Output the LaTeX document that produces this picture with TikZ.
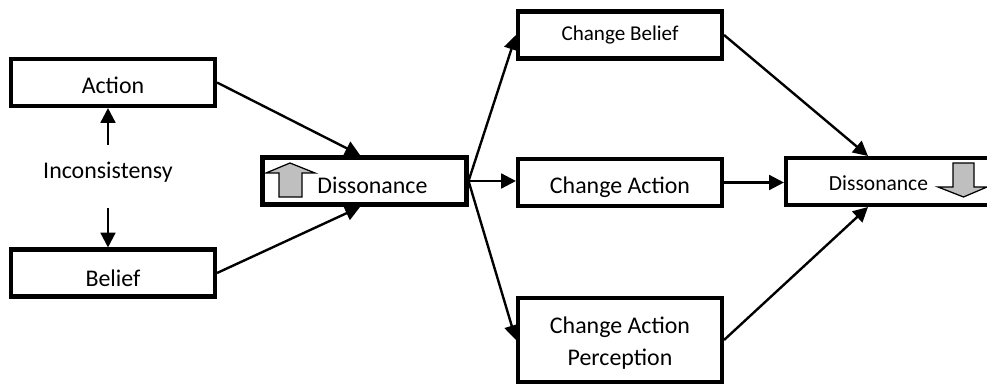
\documentclass[tikz,border=0pt]{standalone}
\usepackage{fontspec}
\setmainfont{Carlito}
\usetikzlibrary{arrows.meta}

\tikzset{
	stagebox/.style={draw, line width=2.9pt, minimum width=204\pxunit, minimum height=47\pxunit, align=center, inner sep=0pt},
	textdown/.style={text height=#1, text depth=0pt},
	link/.style={line width=1.7pt, -{Triangle[length=10.5pt,width=10.5pt]}},
	levelarrow/.style={draw=black, line width=0.9pt, fill=black!25, line join=miter}
}
\newlength{\pxunit}
\setlength{\pxunit}{0.025cm}

\begin{document}
\begin{tikzpicture}[x=0.025cm, y=-0.025cm]
	\useasboundingbox (0,0) rectangle (987,386);

	\node[stagebox, textdown=15pt, font=\fontsize{17}{19}\selectfont] (action) at (113,82.5) {Action};
	\node[stagebox, textdown=19.4pt, font=\fontsize{17}{19}\selectfont] (belief) at (113,273) {Belief};
	\node[minimum height=63\pxunit, inner sep=0pt, text height=12pt, text depth=9pt, font=\fontsize{17}{19}\selectfont] (incons) at (108,176.5) {Inconsistensy};

	\node[stagebox, textdown=17.3pt, text width=194\pxunit, font=\fontsize{17}{20}\selectfont] (dissup) at (364.5,181) {\hspace*{16\pxunit}Dissonance};
	\node[stagebox, textdown=8.5pt, font=\fontsize{15}{16}\selectfont] (chbelief) at (620,35) {Change Belief};
	\node[stagebox, textdown=15pt, font=\fontsize{17}{19}\selectfont] (chaction) at (620,182.5) {Change Action};
	\node[stagebox, minimum height=84\pxunit, text height=37pt, text depth=0.5pt, font=\fontsize{17}{22.75}\selectfont] (chpercept) at (620,340) {Change Action\\Perception};
	\node[stagebox, textdown=13.4pt, minimum width=206\pxunit, text width=196\pxunit, font=\fontsize{15.3}{18}\selectfont] (dissdown) at (889,181.5) {\hspace*{-21\pxunit}Dissonance};

	% level arrows in the two dissonance boxes
	\draw[levelarrow] (279,197) -- (279,173) -- (266,173) -- (290,163) -- (315,173) -- (302,173) -- (302,197) -- cycle;
	\draw[levelarrow] (953,163) -- (953,187) -- (938,187) -- (963.5,197) -- (987,187) -- (974,187) -- (974,163) -- cycle;

	\coordinate (upin) at (360,155);
	\coordinate (upout) at (360,207);
	\coordinate (downin) at (868,156);
	\coordinate (downout) at (868,207);

	\draw[link] (incons.north) -- (incons.north |- action.south);
	\draw[link] (incons.south) -- (incons.south |- belief.north);
	\draw[link] (action.east) -- (upin);
	\draw[link] (belief.east) -- (upout);
	\draw[link] (dissup.east) -- (chbelief.west);
	\draw[link] (dissup.east) -- (dissup.east -| chaction.west);
	\draw[link] (dissup.east) -- (chpercept.west);
	\draw[link] (chbelief.east) -- (downin);
	\draw[link] (chaction.east) -- (chaction.east -| dissdown.west);
	\draw[link] (chpercept.east) -- (downout);
\end{tikzpicture}
\end{document}
